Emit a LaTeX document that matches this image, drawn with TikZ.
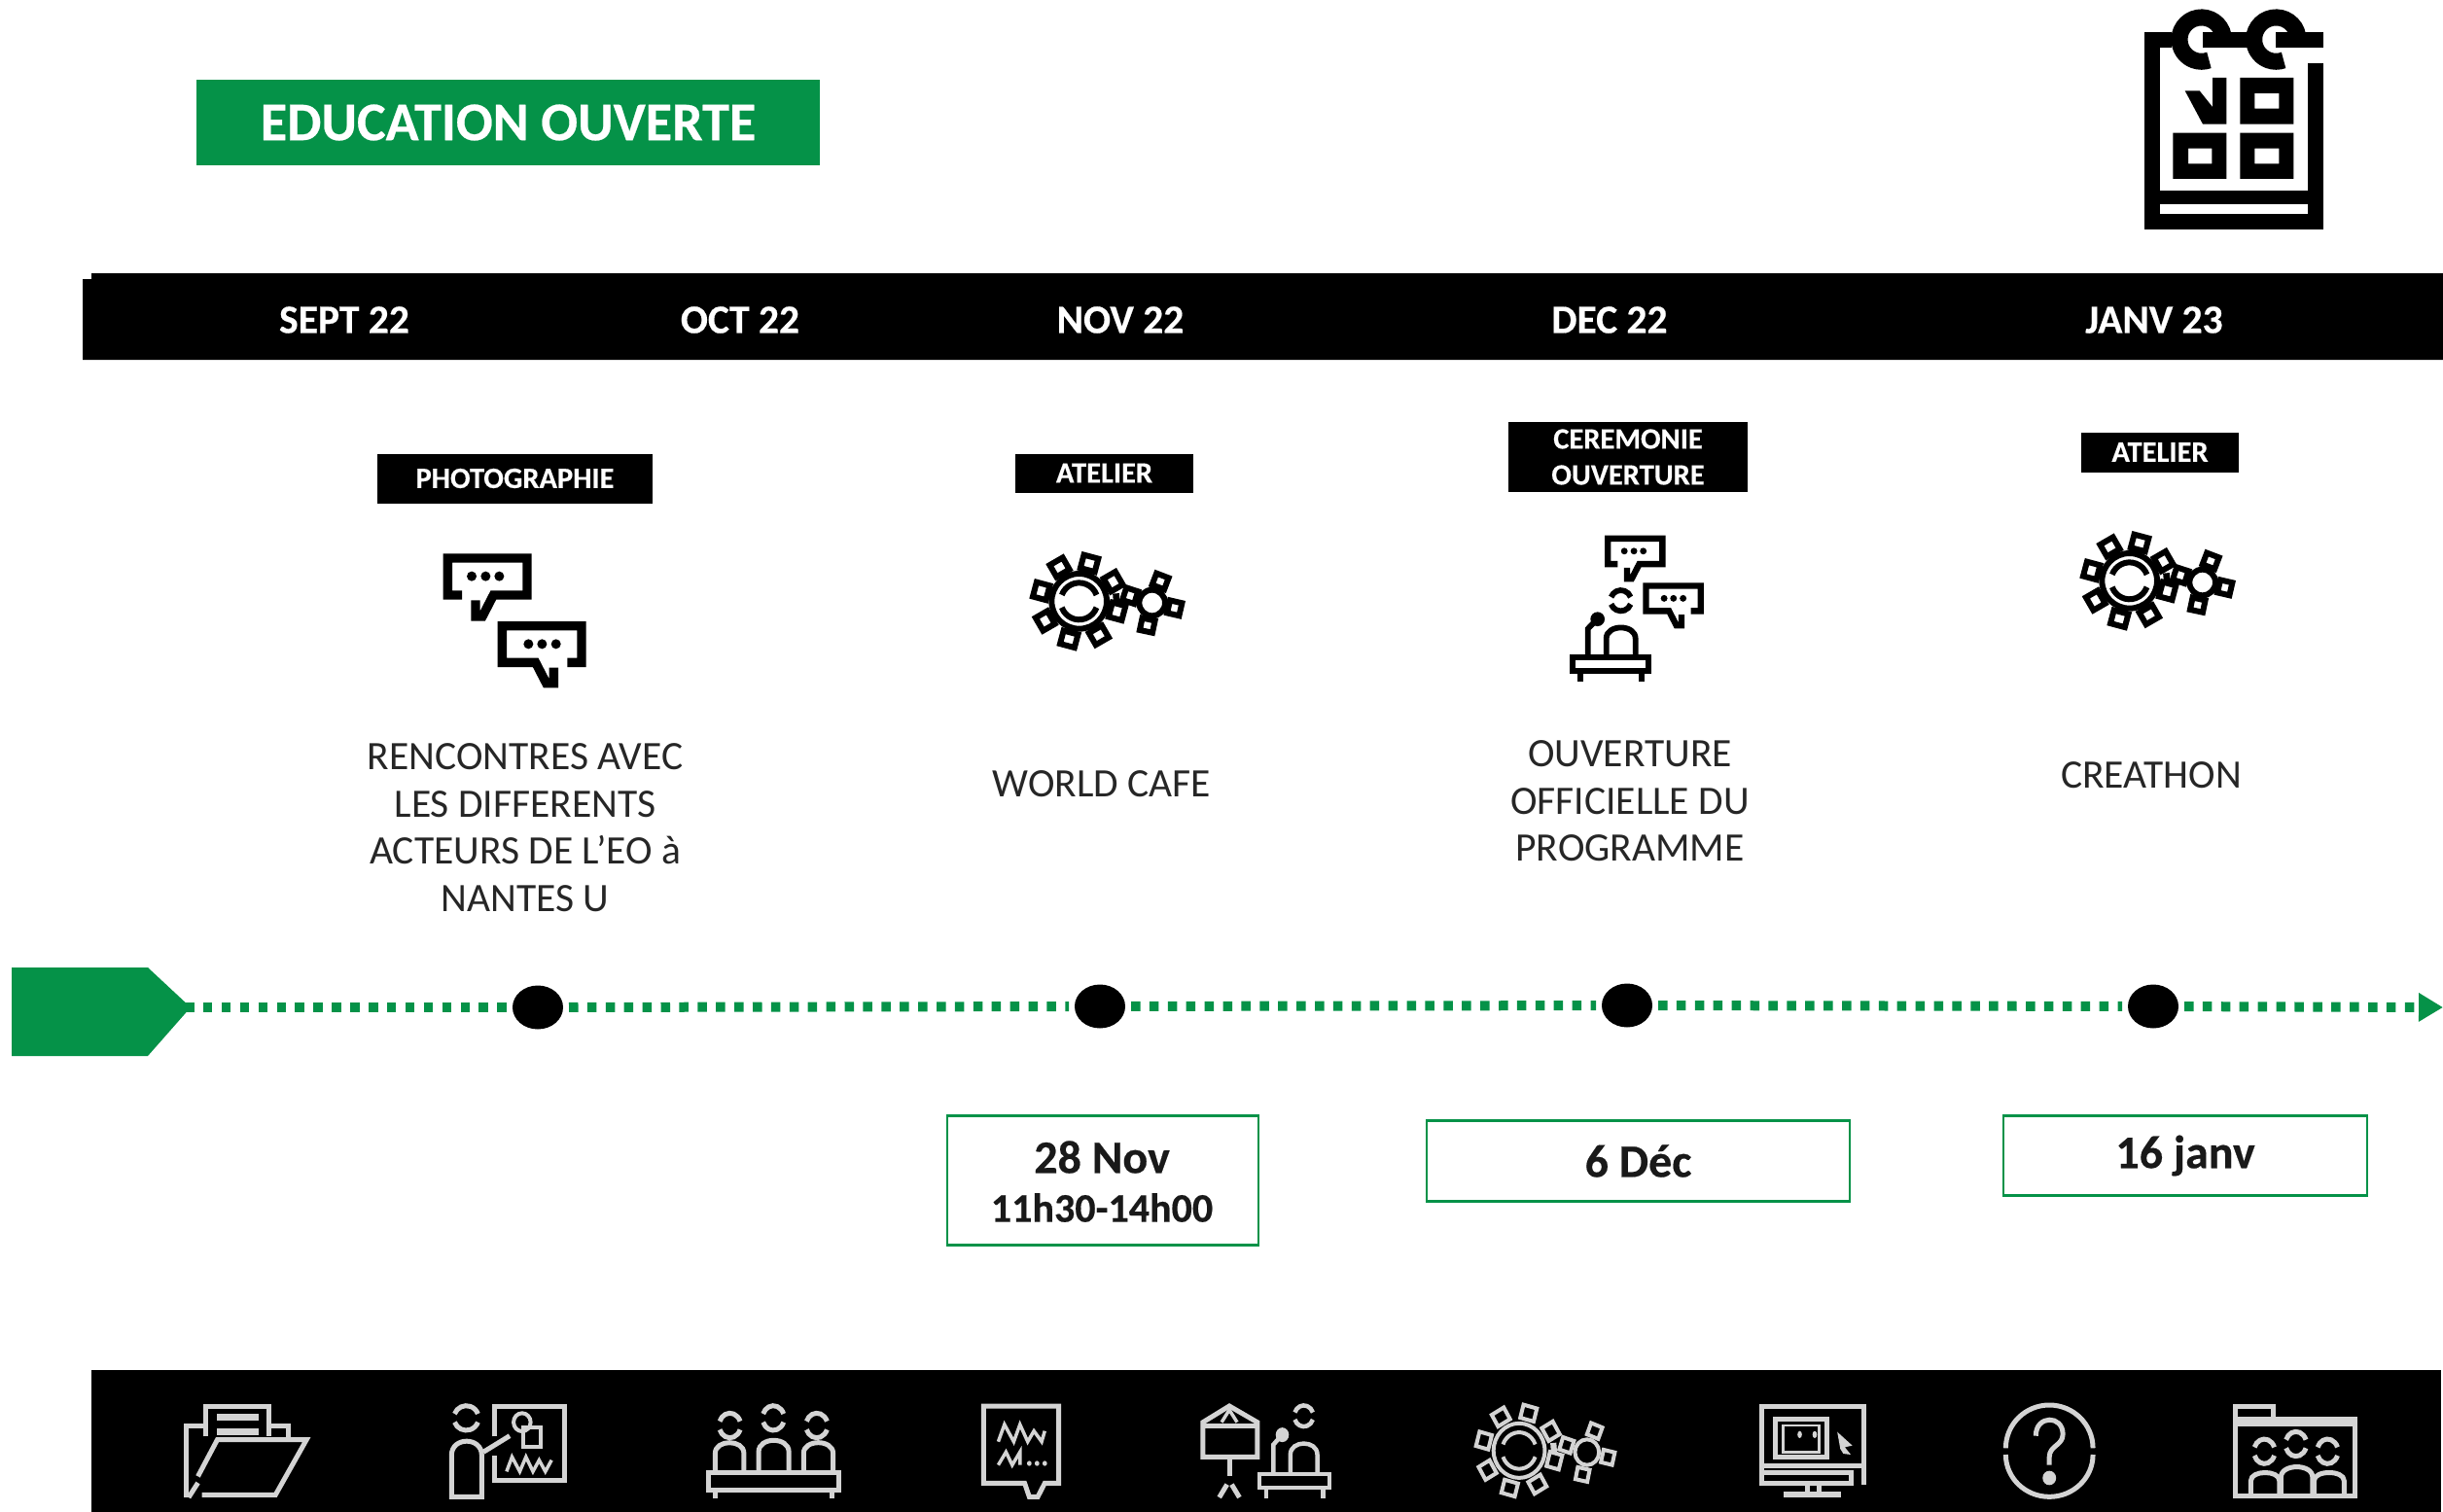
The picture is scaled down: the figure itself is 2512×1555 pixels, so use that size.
\documentclass[tikz,border=0pt]{standalone}
\usepackage{fontspec}
\setmainfont{Carlito}[BoldFeatures={FakeBold=0.4}]
\usetikzlibrary{arrows.meta,shapes.geometric}
\definecolor{eogreen}{HTML}{059248}
\definecolor{icongrey}{HTML}{D4D4D4}
\tikzset{
  banner/.style={fill=#1,inner sep=0pt},
  hdr/.style={text=white,font=\fontsize{41.5}{44}\selectfont\bfseries,inner sep=0pt},
  tagbox/.style={fill=black,text=white,inner sep=0pt,align=center,font=\fontsize{30.5}{37}\selectfont\bfseries},
  body/.style={text=black!85,inner sep=0pt,align=center,font=\fontsize{41.5}{48.6}\selectfont},
  datebox/.style={draw=eogreen,line width=2.6pt,inner sep=0pt},
  datebig/.style={inner sep=0pt,text=black!90,font=\fontsize{48}{50}\selectfont\bfseries},
  datesmall/.style={inner sep=0pt,text=black!90,font=\fontsize{42}{44}\selectfont\bfseries},
  dotline/.style={draw=eogreen,line width=10pt,dash pattern=on 9.5pt off 9.4pt},
  stopdot/.style={ellipse,fill=black,inner sep=0pt,minimum width=52pt,minimum height=45pt,outer sep=6pt}
}
% two arcs making a head
\newcommand\hdarcs[4]{%
  \draw ({#1-.94*#3},{#2-.34*#4}) arc[start angle=200,end angle=340,x radius=#3,y radius=#4];
  \draw ({#1-.94*#3},{#2+.34*#4}) arc[start angle=160,end angle=20,x radius=#3,y radius=#4];}
\newcommand\archbody[4]{% x1 x2 ybottom ytop
  \draw ({#1},{#3}) -- ({#1},{#4+0.45*(#3-#4)}) .. controls ({#1},{#4}) and ({#2},{#4}) .. ({#2},{#4+0.45*(#3-#4)}) -- ({#2},{#3});}
% gears: x y sx sy colour linewidth
\newcommand\gearsic[6]{%
  \begin{scope}[shift={(#1,#2)},xscale=#3,yscale=#4,shift={(-55,-60)},color=#5,line width=#6pt]
    \begin{scope}[shift={(210,205)}]
      \draw (0,0) circle (85);
      \hdarcs{0}{0}{57}{57}
      \foreach \a in {75,120,165,210,255,300,345,30} \draw[rotate=\a] (100,-23) rectangle (142,23);
      \fill[rotate=5] (105,-14) rectangle (125,14);
    \end{scope}
    \begin{scope}[shift={(435,210)}]
      \draw (0,0) circle (40);
      \foreach \a in {162,69,-13,-102} \draw[rotate=\a] (52,-20) rectangle (90,20);
    \end{scope}
  \end{scope}}
% podium speaker
\newcommand\podiumic[6]{%
  \begin{scope}[shift={(#1,#2)},xscale=#3,yscale=#4,shift={(-72,-197)},color=#5,line width=#6pt]
    \hdarcs{230}{233}{32}{32}
    \archbody{185}{275}{405}{305}
    \draw (82,408) rectangle (315,450);
    \draw (104,450) -- (104,482) (294,450) -- (294,482);
    \draw (128,405) -- (128,320) -- (155,292);
    \fill (158,290) circle (22);
  \end{scope}}
% speech bubbles
\newcommand\bubleft[3]{%
  \begin{scope}[shift={(#1,#2)},scale=#3,shift={(-77,-88)},line width={28pt*#3}]
    \draw (135,216) -- (91,216) -- (91,102) -- (336,102) -- (336,216) -- (232,216) -- (198,282) -- (177,282) -- (177,232);
    \fill (165,158) circle (15) (208,158) circle (15) (250,158) circle (15);
  \end{scope}}
\newcommand\bubright[3]{%
  \begin{scope}[shift={(#1,#2)},scale=#3,shift={(-245,-297)},line width={28pt*#3}]
    \draw (460,424) -- (504,424) -- (504,311) -- (259,311) -- (259,424) -- (362,424) -- (395,488) -- (418,488) -- (418,440);
    \fill (340,367) circle (15) (382,367) circle (15) (425,367) circle (15);
  \end{scope}}
\begin{document}
\begin{tikzpicture}[x=1pt,y=-1pt,line join=miter]
\useasboundingbox (0,0) rectangle (2512,1555);
% title
\node[banner=eogreen,minimum width=641pt,minimum height=88pt,text=white,font=\fontsize{56}{60}\selectfont\bfseries] (title) at (522.5,126) {EDUCATION OUVERTE};
% calendar
\begin{scope}[shift={(2150,0)},scale=.33333,line width=16pt]
  \draw (345,122) -- (490,122) (570,122) -- (717,122);
  \draw (250,122) -- (189,122) -- (189,684) -- (693,684) -- (693,195);
  \draw[line width=14.5pt] (189,609) -- (693,609);
  \draw[line width=17pt] (408,110) arc[start angle=-10,end angle=-290,radius=68];
  \draw[line width=17pt] (638,110) arc[start angle=-10,end angle=-290,radius=68];
  \fill (290,280) -- (335,280) -- (375,330) -- (375,240) -- (418,240) -- (418,383) -- (345,383) -- cycle;
  \fill[even odd rule] (460,240) rectangle (625,383) (505,288) rectangle (580,335);
  \fill[even odd rule] (253,410) rectangle (418,552) (300,458) rectangle (373,505);
  \fill[even odd rule] (460,410) rectangle (625,552) (505,458) rectangle (580,505);
\end{scope}
% month band
\fill (94,281) -- (2512,281) -- (2512,370) -- (85,370) -- (85,287) -- (94,287) -- cycle;
\node[hdr] (m1) at (354,329) {SEPT 22};
\node[hdr] (m2) at (761,329) {OCT 22};
\node[hdr] (m3) at (1152,329) {NOV 22};
\node[hdr] (m4) at (1655,329) {DEC 22};
\node[hdr] (m5) at (2215,329) {JANV 23};
% tags
\node[tagbox,minimum width=283pt,minimum height=51pt] (t1) at (529.5,492) {PHOTOGRAPHIE};
\node[tagbox,minimum width=183pt,minimum height=40pt] (t2) at (1135.5,486.5) {ATELIER};
\node[tagbox,minimum width=246pt,minimum height=72pt] (t3) at (1674,470) {CEREMONIE\\OUVERTURE};
\node[tagbox,minimum width=162pt,minimum height=41pt] (t4) at (2221,465) {ATELIER};
% event icons
\bubleft{455.7}{569.3}{.33333}
\bubright{511.7}{639}{.33333}
\gearsic{1058}{570}{.33333}{.33333}{black}{6}
\bubleft{1650}{550.7}{.2295}
\bubright{1689.3}{599.3}{.2295}
\podiumic{1614}{605.7}{.33333}{.33333}{black}{5.8}
\gearsic{2138}{549}{.33333}{.33333}{black}{6}
% texts
\node[body] (b1) at (540,851) {RENCONTRES AVEC\\LES DIFFERENTS\\ACTEURS DE L’EO à\\NANTES U};
\node[body] (b2) at (1133,806) {WORLD CAFE};
\node[body] (b3) at (1676,824) {OUVERTURE\\OFFICIELLE DU\\PROGRAMME};
\node[body] (b4) at (2212,797) {CREATHON};
% timeline
\fill[eogreen] (12,995) -- (152,995) -- (196,1036) -- (152,1086) -- (12,1086) -- cycle;
\coordinate (tlstart) at (190,1036);
\coordinate (tlend) at (2512,1036);
\node[stopdot] (s1) at (553,1036) {};
\node[stopdot] (s2) at (1131,1035) {};
\node[stopdot] (s3) at (1673,1034) {};
\node[stopdot] (s4) at (2214,1035) {};
\draw[dotline] (tlstart) -- (s1);
\draw[dotline] (s1) -- (s2);
\draw[dotline] (s2) -- (s3);
\draw[dotline] (s3) -- (s4);
\draw[dotline,-{Triangle[length=25pt,width=28pt]}] (s4) -- (tlend);
% dates
\node[datebox,minimum width=320pt,minimum height=133pt] (d1) at (1134,1214) {};
\node[datesmall] (d1c) at (1133,1242) {11h30-14h00};
\node[datebig] (d1b) at (1133,1190) {28 Nov};
\node[datebox,minimum width=435pt,minimum height=83pt,datebig] (d2) at (1684.5,1194) {6 Déc};
\node[datebox,minimum width=374pt,minimum height=82pt,datebig] (d3) at (2247,1188.5) {16 janv};
% bottom band
\fill (94,1409) rectangle (2510,1555);
% bottom icons, left part
\begin{scope}[shift={(60,1390)},xscale=.7974,yscale=.33333,color=icongrey,line width=5pt]
  % folder
  \draw (165,450) -- (165,228) -- (190,228);
  \draw (190,262) -- (190,168) -- (272,168) -- (272,262);
  \draw (272,228) -- (297,228) -- (297,265);
  \draw[line width=7pt] (205,203) -- (258,203) (205,246) -- (258,246);
  \draw (180,385) -- (205,272) -- (320,272) -- (280,442) -- (185,442);
  \draw (180,405) -- (168,450);
  % person and board
  \hdarcs{526}{205}{16}{38}
  \draw (507,448) -- (507,320) .. controls (507,262) and (546,262) .. (546,320) -- (546,448) -- cycle;
  \draw (548,310) -- (582,260);
  \draw (562,262) -- (562,168) -- (653,168) -- (653,398) -- (562,398) -- (562,320);
  \draw[line width=4pt] (598,218) ellipse (11 and 28);
  \draw[line width=4pt] (600,235) rectangle (622,295);
  \draw[line width=3.5pt] (578,370) -- (585,325) -- (595,370) -- (603,325) -- (612,370) -- (620,335) -- (628,370) -- (636,335);
  % three persons
  \hdarcs{866}{228}{14}{38}
  \hdarcs{922}{205}{14}{38}
  \hdarcs{978}{228}{14}{38}
  \archbody{847}{884}{368}{270}
  \archbody{903}{942}{368}{262}
  \archbody{961}{999}{368}{270}
  \draw (838,372) rectangle (1007,428);
  \draw (847,428) -- (847,452) (997,428) -- (997,452);
  % report bubble
  \draw (1246,406) -- (1193,406) -- (1193,168) -- (1290,168) -- (1290,406) -- (1272,406) -- (1263,448) -- (1252,448) -- cycle;
  \draw[line width=3.5pt] (1212,278) -- (1220,225) -- (1232,278) -- (1240,225) -- (1250,278) -- (1258,245) -- (1268,278) -- (1272,245);
  \draw[line width=3.5pt] (1212,350) -- (1222,310) -- (1230,350) -- (1240,310) -- (1240,350);
  \fill (1252,345) ellipse (3 and 8) (1262,345) ellipse (3 and 8) (1272,345) ellipse (3 and 8);
  % pointer board
  \draw (1476,325) -- (1476,218) -- (1510,168) -- (1546,218) -- (1546,325) -- cycle;
  \draw (1476,230) -- (1546,230);
  \draw[line width=3.5pt] (1500,218) -- (1510,180) -- (1520,218);
  \draw (1510,325) -- (1510,385);
  \draw (1497,450) -- (1507,410) (1523,450) -- (1513,410);
\end{scope}
\podiumic{1292}{1444}{.308}{.34}{icongrey}{4.5}
\gearsic{1514}{1444}{.31}{.33}{icongrey}{4}
% bottom icons, right part
\begin{scope}[shift={(1300,1390)},xscale=.7732,yscale=.33333,color=icongrey,line width=5pt]
  % monitor
  \draw (797,410) -- (797,170) -- (661,170) -- (661,405) -- (780,405) -- (780,372) -- (661,372);
  \draw (661,352) -- (797,352);
  \draw (680,208) rectangle (748,325);
  \draw[line width=2.5pt] (690,228) rectangle (738,310);
  \fill (712,256) ellipse (3 and 11) (732,256) ellipse (3 and 11);
  \fill (762,248) -- (782,290) -- (772,295) -- (780,318) -- (770,315) -- (766,300) -- cycle;
  \draw (722,405) -- (722,442) (738,405) -- (738,442);
  \draw[line width=6pt] (690,442) -- (767,442);
  % question
  \draw (986,298) arc[start angle=180,end angle=360,x radius=58,y radius=133];
  \draw (986,318) arc[start angle=180,end angle=0,x radius=58,y radius=130];
  \draw (1026,260) .. controls (1026,195) and (1062,195) .. (1062,255) .. controls (1062,290) and (1044,290) .. (1044,325) -- (1044,350);
  \fill (1044,390) ellipse (9 and 22);
  % group folder
  \draw (1292,205) -- (1292,168) -- (1342,168) -- (1342,205);
  \draw (1292,446) -- (1292,208) -- (1451,208) -- (1451,446) -- cycle;
  \draw (1292,222) -- (1451,222);
  \hdarcs{1330}{308}{14}{38}
  \hdarcs{1372}{285}{14}{38}
  \hdarcs{1414}{308}{14}{38}
  \archbody{1312}{1350}{440}{365}
  \archbody{1352}{1394}{440}{345}
  \archbody{1396}{1436}{440}{365}
\end{scope}
\end{tikzpicture}
\end{document}
